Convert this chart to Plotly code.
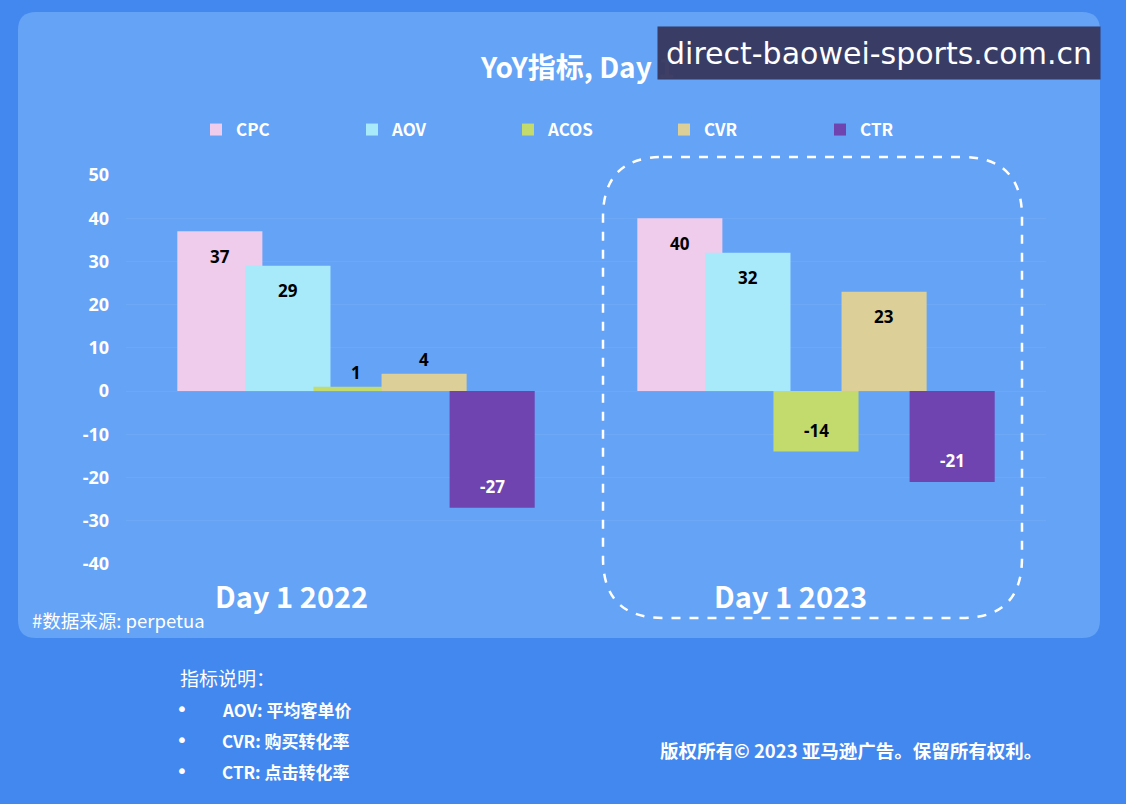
import plotly.graph_objects as go

groups = ["Day 1 2022", "Day 1 2023"]
metrics = ["CPC", "AOV", "ACOS", "CVR", "CTR"]
values = {
    "CPC": [37, 40],
    "AOV": [29, 32],
    "ACOS": [1, -14],
    "CVR": [4, 23],
    "CTR": [-27, -21],
}
colors = {
    "CPC": "#EFCBEC",
    "AOV": "#A8E9FA",
    "ACOS": "#C3DA6C",
    "CVR": "#DCCF98",
    "CTR": "#6F44B0",
}
text_colors = {"CPC": "black", "AOV": "black", "ACOS": "black", "CVR": "black", "CTR": "white"}
y_ticks = [-40, -30, -20, -10, 0, 10, 20, 30, 40, 50]

W, H = 1126, 804
L, R, T, B = 126, 80, 175, 240
PW, PH = W - L - R, H - T - B


def px(x):
    return (x - L) / PW


def py(y):
    return (H - B - y) / PH


def rounded_path(x0, y0, x1, y1, r):
    pts = []
    pts.append(f"M {px(x0 + r)} {py(y0)}")
    pts.append(f"L {px(x1 - r)} {py(y0)}")
    pts.append(f"Q {px(x1)} {py(y0)} {px(x1)} {py(y0 + r)}")
    pts.append(f"L {px(x1)} {py(y1 - r)}")
    pts.append(f"Q {px(x1)} {py(y1)} {px(x1 - r)} {py(y1)}")
    pts.append(f"L {px(x0 + r)} {py(y1)}")
    pts.append(f"Q {px(x0)} {py(y1)} {px(x0)} {py(y1 - r)}")
    pts.append(f"L {px(x0)} {py(y0 + r)}")
    pts.append(f"Q {px(x0)} {py(y0)} {px(x0 + r)} {py(y0)} Z")
    return " ".join(pts)


bar_w = 0.185
step = 0.148
start = -(step * (len(metrics) - 1) + bar_w) / 2

cjk = "Noto Sans CJK SC, Noto Sans, sans-serif"

fig = go.Figure()
value_labels = []
for i, m in enumerate(metrics):
    vals = values[m]
    off = start + i * step
    fig.add_trace(go.Bar(
        name=m,
        x=groups,
        y=vals,
        width=bar_w,
        offset=off,
        marker=dict(color=colors[m], line=dict(width=0)),
        cliponaxis=False,
    ))
    for j, v in enumerate(vals):
        small = abs(v) < 5
        if small:
            shift, anchor, col = 1, "bottom", "black"
        elif v > 0:
            shift, anchor, col = -25, "middle", text_colors[m]
        else:
            shift, anchor, col = 21, "middle", text_colors[m]
        value_labels.append(dict(
            text=str(v), x=j + off + bar_w / 2, y=v, xref="x", yref="y", showarrow=False,
            xanchor="center", yanchor=anchor, yshift=shift,
            font=dict(size=17, color=col, family="Noto Sans, sans-serif", weight="bold")))

shapes = [
    dict(type="path", xref="paper", yref="paper", path=rounded_path(18, 12, 1100, 638, 18),
         fillcolor="#64A3F6", line=dict(width=0), layer="below"),
    dict(type="path", xref="paper", yref="paper", path=rounded_path(603, 157, 1022, 618, 60),
         fillcolor="rgba(0,0,0,0)", line=dict(color="white", width=2.5, dash="dash"), layer="above"),
]


def ann(text, x, y, size, anchor="left", bold=False, **kw):
    font = dict(size=size, color="white", family=kw.pop("family", cjk))
    if bold:
        font["weight"] = "bold"
    return dict(text=text, x=px(x), y=py(y), xref="paper", yref="paper", showarrow=False,
                xanchor=anchor, yanchor="middle", font=font, **kw)


annotations = value_labels + [
    ann("YoY指标, Day 1", 577, 66, 28, anchor="center", bold=True),
    ann("Day 1 2022", 291, 595, 29, anchor="center", bold=True),
    ann("Day 1 2023", 790, 595, 29, anchor="center", bold=True),
    ann("#数据来源: perpetua", 30, 620, 18.5),
    ann("指标说明：", 178, 677, 19),
    ann("版权所有© 2023 亚马逊广告。保留所有权利。", 658, 750, 18.5, bold=True),
    ann("direct-baowei-sports.com.cn", 879, 53, 30, anchor="center",
        family="DejaVu Sans, sans-serif", bgcolor="rgba(55,55,95,0.96)", borderpad=6,
        width=430, height=40),
]
notes = ["AOV: 平均客单价", "CVR: 购买转化率", "CTR: 点击转化率"]
for k, n in enumerate(notes):
    yy = 709 + k * 31
    annotations.append(ann("•", 182, yy, 20, anchor="center", family="DejaVu Sans, sans-serif"))
    annotations.append(ann(n, 220, yy, 17, bold=True))

fig.update_layout(
    width=W, height=H,
    margin=dict(l=L, r=R, t=T, b=B, autoexpand=False),
    paper_bgcolor="#4388EF",
    plot_bgcolor="rgba(0,0,0,0)",
    barmode="overlay",
    showlegend=True,
    legend=dict(orientation="h", x=px(196), y=py(130), xanchor="left", yanchor="middle",
                entrywidth=111, traceorder="normal", itemclick=False,
                font=dict(size=17, color="white", family=cjk, weight="bold"),
                bgcolor="rgba(0,0,0,0)"),
    xaxis=dict(range=[-0.5, 1.5], showticklabels=False, showgrid=False, zeroline=False, showline=False,
               fixedrange=True),
    yaxis=dict(range=[-40, 50], tickvals=y_ticks, ticktext=[str(v) for v in y_ticks],
               showgrid=True, gridcolor="rgba(255,255,255,0.06)", zeroline=False, showline=False,
               ticklabelstandoff=16,
               tickfont=dict(size=18, color="white", family="Noto Sans, sans-serif", weight="bold")),
    shapes=shapes,
    annotations=annotations,
)

fig.write_html("out.html", config={"displayModeBar": False},
               post_script="document.body.style.margin='0';document.body.style.overflow='hidden';")
